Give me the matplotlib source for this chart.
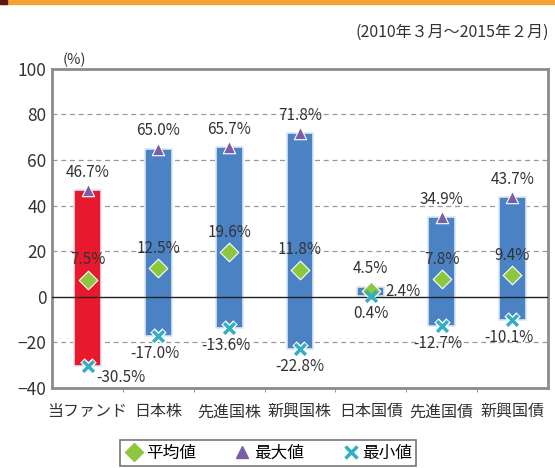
import matplotlib.pyplot as plt
import numpy as np
from matplotlib.patches import Rectangle
from matplotlib.lines import Line2D

plt.rcParams['font.family'] = ['Noto Sans CJK JP', 'DejaVu Sans']

categories = ['当ファンド', '日本株', '先進国株', '新興国株', '日本国債', '先進国債', '新興国債']
avg_vals = [7.5, 12.5, 19.6, 11.8, 2.4, 7.8, 9.4]
max_vals = [46.7, 65.0, 65.7, 71.8, 4.5, 34.9, 43.7]
min_vals = [-30.5, -17.0, -13.6, -22.8, 0.4, -12.7, -10.1]
bar_colors = ['#e8192c', '#4a82c4', '#4a82c4', '#4a82c4', '#4a82c4', '#4a82c4', '#4a82c4']

fig = plt.figure(figsize=(5.55, 4.68), dpi=100)
ax = fig.add_axes([0.094, 0.171, 0.893, 0.682])

x = np.arange(len(categories))
heights = [mx - mn for mx, mn in zip(max_vals, min_vals)]
ax.bar(x, heights, bottom=min_vals, width=0.38, color=bar_colors,
       edgecolor='#dbe6f3', linewidth=1.2, zorder=2)

ax.scatter(x, max_vals, marker='^', s=80, color='#7b5ea7', edgecolor='white',
           linewidth=0.8, zorder=4)
ax.scatter(x, avg_vals, marker='D', s=90, color='#8dc63f', edgecolor='white',
           linewidth=0.8, zorder=4)
ax.scatter(x, min_vals, marker='x', s=75, color='white', linewidth=4.5, zorder=3)
ax.scatter(x, min_vals, marker='x', s=60, color='#33aec4', linewidth=2.5, zorder=4)

fs = 11
tc = '#333333'
for i in range(len(categories)):
    ax.text(x[i], max_vals[i] + 4, f'{max_vals[i]:.1f}%', ha='center', va='bottom',
            fontsize=fs, color=tc)
    if i == 4:
        ax.text(x[i] + 0.2, avg_vals[i], f'{avg_vals[i]:.1f}%', ha='left', va='center',
                fontsize=fs, color=tc)
        ax.text(x[i], min_vals[i] - 4, f'{min_vals[i]:.1f}%', ha='center', va='top',
                fontsize=fs, color=tc)
    else:
        ax.text(x[i], avg_vals[i] + 5, f'{avg_vals[i]:.1f}%', ha='center', va='bottom',
                fontsize=fs, color=tc)
    if i == 0:
        ax.text(x[i] + 0.12, min_vals[i] - 1, f'{min_vals[i]:.1f}%', ha='left', va='top',
                fontsize=fs, color=tc)
    elif i == 3:
        ax.text(x[i], min_vals[i] - 4, f'{min_vals[i]:.1f}%', ha='center', va='top',
                fontsize=fs, color=tc)
    elif i != 4:
        ax.text(x[i] - 0.05, min_vals[i] - 4, f'{min_vals[i]:.1f}%', ha='center', va='top',
                fontsize=fs, color=tc)

ax.set_xlim(-0.5, len(categories) - 0.5)
ax.set_ylim(-40, 100)
ax.set_yticks(np.arange(-40, 101, 20))
ax.tick_params(axis='y', length=0, labelsize=12.5, colors=tc, pad=4)
ax.set_xticks(x)
ax.set_xticklabels(categories, fontsize=11.5, color=tc)
ax.tick_params(axis='x', length=0, pad=11)
ax.set_xticks(np.arange(0.5, len(categories) - 0.5, 1), minor=True)
ax.tick_params(axis='x', which='minor', length=3, color='#888888')

for yv in [-20, 20, 40, 60, 80]:
    ax.axhline(yv, color='#999999', linestyle=(0, (4, 3)), linewidth=0.9, zorder=1)
ax.axhline(0, color='#222222', linewidth=1.0, zorder=3)

for sp in ax.spines.values():
    sp.set_color('#8c8c8c')
    sp.set_linewidth(2)

# top orange band
fig.patches.append(Rectangle((0, 0.991), 1, 0.009, transform=fig.transFigure,
                             color='#f5a133', zorder=0))
fig.patches.append(Rectangle((0, 0.991), 0.012, 0.009, transform=fig.transFigure,
                             color='#5a1a10', zorder=1))

fig.text(0.99, 0.93, '(2010年３月～2015年２月)', ha='right', va='center',
         fontsize=11.5, color=tc)
fig.text(0.113, 0.872, '(%)', ha='left', va='center', fontsize=10.5, color=tc)

handles = [
    Line2D([], [], marker='D', color='#8dc63f', linestyle='none', markersize=9),
    Line2D([], [], marker='^', color='#7b5ea7', linestyle='none', markersize=9),
    Line2D([], [], marker='x', color='#33aec4', linestyle='none', markersize=9,
           markeredgewidth=2.5),
]
leg = fig.legend(handles, ['平均値', '最大値', '最小値'], loc='center',
                 bbox_to_anchor=(0.483, 0.032), ncol=3, fontsize=12,
                 frameon=True, fancybox=False, handletextpad=0.1, handlelength=1.2,
                 columnspacing=2.2, borderpad=0.25)
leg.get_frame().set_edgecolor('#555555')
leg.get_frame().set_linewidth(1.2)

fig.savefig('out.png', dpi=100)
